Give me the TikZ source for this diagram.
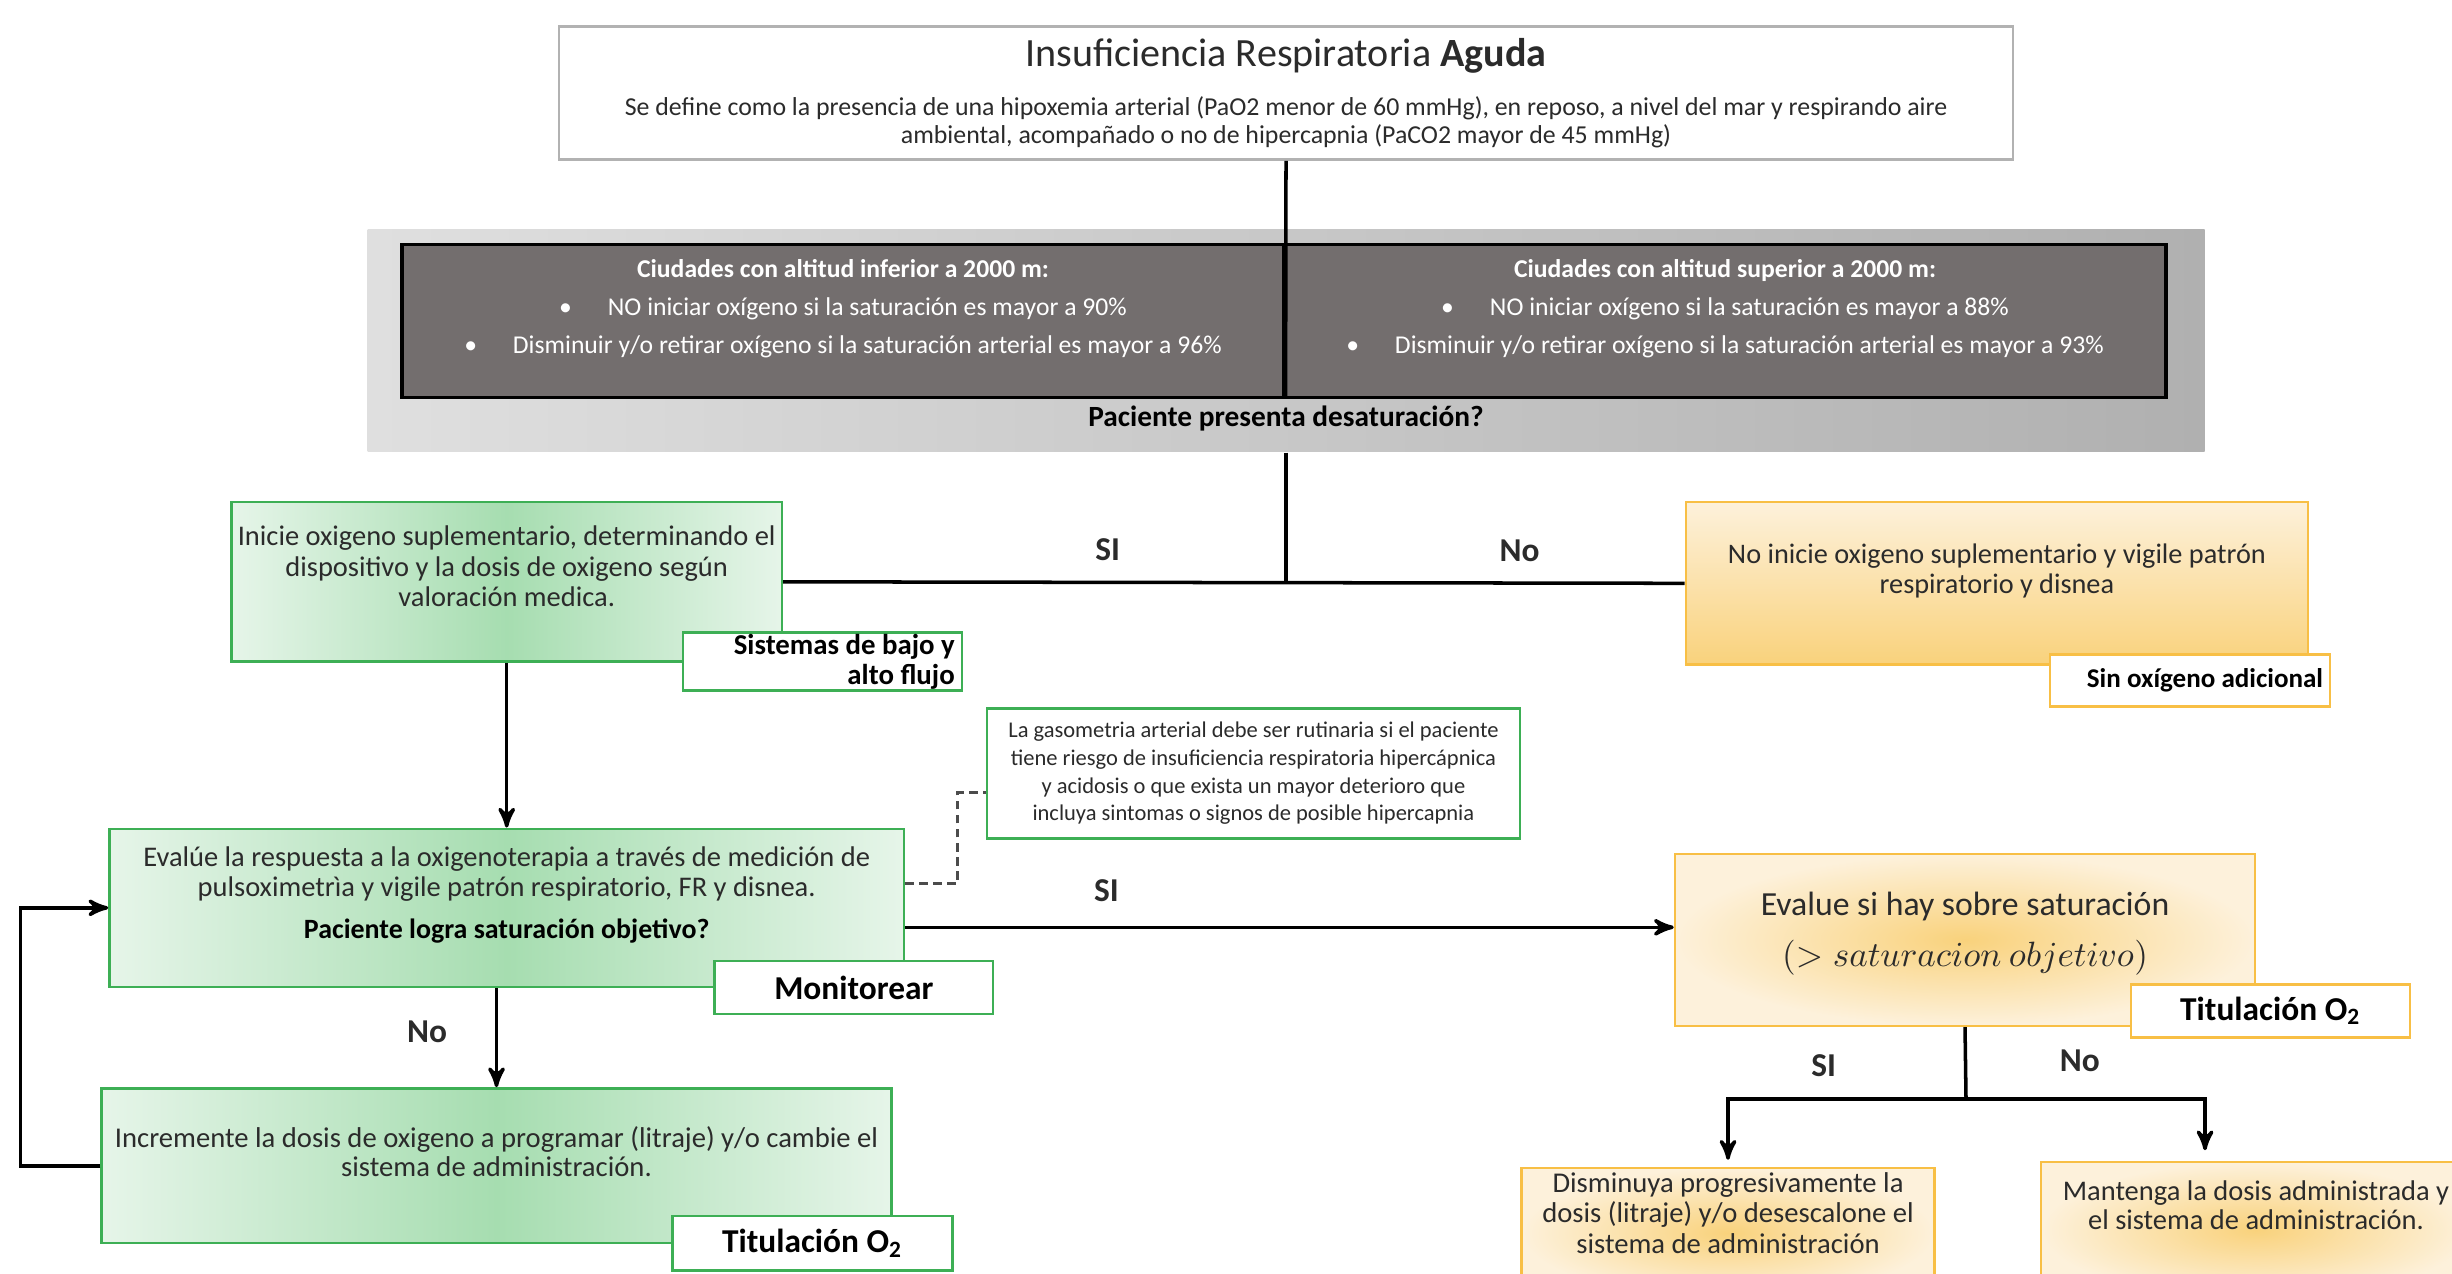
\documentclass[tikz,border=0pt]{standalone}
\usepackage{fontspec}
\setmainfont{Carlito}
\usepackage{tikz}
\usetikzlibrary{shapes, arrows, arrows.meta, calc, positioning}
\usepackage{xcolor}
\definecolor{boxgreen}{HTML}{3DAF55}
\definecolor{greenfill}{HTML}{A6DDB0}
\definecolor{greenlight}{HTML}{E6F5E9}
\definecolor{boxorange}{HTML}{F8BF45}
\definecolor{orangefill}{HTML}{F9D27C}
\definecolor{orangelight}{HTML}{FDF1DB}
\definecolor{darkcell}{HTML}{736E6E}
\definecolor{textgray}{HTML}{2B2B2B}

\begin{document}
\begin{tikzpicture}
        \tikzstyle{topbox}=[draw=gray!60, line width=0.8pt, fill=white, minimum width=14.54cm, minimum height=1.33cm, align=center, inner sep=0pt, text=textgray]
        \tikzstyle{graybox}=[left color=gray!25, right color=gray!62, minimum width=18.37cm, minimum height=2.22cm, inner sep=0pt]
        \tikzstyle{cell}=[draw=black, line width=0.9pt, fill=darkcell, text=white, minimum width=8.82cm, minimum height=1.53cm, align=center, inner sep=0pt, font=\fontsize{7.3}{10.8}\selectfont]
        \tikzstyle{greenbox}=[draw=boxgreen, line width=0.7pt, left color=greenlight, right color=greenlight, middle color=greenfill, text=textgray, align=center, inner sep=0pt, font=\fontsize{8.1}{8.7}\selectfont]
        \tikzstyle{orangebox}=[draw=boxorange, line width=0.7pt, inner color=orangefill, outer color=orangelight, text=textgray, align=center, inner sep=0pt, font=\fontsize{8.1}{8.6}\selectfont]
        \tikzstyle{tag}=[draw, line width=0.7pt, fill=white, inner sep=0pt, minimum width=2.79cm, minimum height=0.53cm, font=\bfseries\fontsize{9.5}{10}\selectfont]
        \tikzstyle{conn}=[line width=1pt]
        \tikzstyle{arrow}=[->, line width=1pt, >=stealth']
        \tikzstyle{answer}=[font=\bfseries\fontsize{9.5}{10}\selectfont, text=textgray]

        \useasboundingbox (0,0) rectangle (24.52,-12.73);

        % encabezado
        \node[topbox, font=\fontsize{7.35}{8}\selectfont] (IRA) at (12.86,-0.93) {{\fontsize{11.4}{12}\selectfont Insuficiencia Respiratoria \textbf{Aguda}}\\[6pt]
            Se define como la presencia de una hipoxemia arterial (PaO2 menor de 60 mmHg), en reposo, a nivel del mar y respirando aire\\
            ambiental, acompañado o no de hipercapnia (PaCO2 mayor de 45 mmHg)};

        \node[graybox] (altitud) at (12.86,-3.409) {};
        \node[cell] (inferior) at (8.43,-3.206) {\textbf{Ciudades con altitud inferior a 2000 m:}\\
            \textbullet\hspace{1.4em}NO iniciar oxígeno si la saturación es mayor a 90\%\\
            \textbullet\hspace{1.4em}Disminuir y/o retirar oxígeno si la saturación arterial es mayor a 96\%\\[-3pt] \mbox{}};
        \node[cell] (superior) at (17.25,-3.206) {\textbf{Ciudades con altitud superior a 2000 m:}\\
            \textbullet\hspace{1.4em}NO iniciar oxígeno si la saturación es mayor a 88\%\\
            \textbullet\hspace{1.4em}Disminuir y/o retirar oxígeno si la saturación arterial es mayor a 93\%\\[-3pt] \mbox{}};
        \node[font=\bfseries\fontsize{8.35}{9}\selectfont] (desat) at (12.86,-4.19) {Paciente presenta desaturación?};

        % primera decision
        \node[greenbox, minimum width=5.505cm, minimum height=1.595cm] (inicie) at (5.067,-5.818) {Inicie oxigeno suplementario, determinando el\\
            dispositivo y la dosis de oxigeno según\\
            valoración medica.\\ \mbox{}};
        \node[tag, draw=boxgreen, minimum height=0.58cm, text width=2.65cm, align=flush right, font=\bfseries\fontsize{8.2}{8.6}\selectfont, below left = -0.313cm and -1.798cm of inicie.south east] (flujo) {Sistemas de bajo y\\alto flujo};

        \node[orangebox, top color=orangelight, bottom color=orangefill, minimum width=6.222cm, minimum height=1.626cm, font=\fontsize{8.05}{8.4}\selectfont] (noinicie) at (19.969,-5.833) {No inicie oxigeno suplementario y vigile patrón\\
            respiratorio y disnea\\ \mbox{}};
        \node[tag, draw=boxorange, minimum width=2.8cm, minimum height=0.52cm, text width=2.66cm, align=flush right, font=\bfseries\fontsize{7.7}{8.6}\selectfont, below left = -0.126cm and -0.22cm of noinicie.south east] (sinoxi) {Sin oxígeno adicional};

        % monitoreo
        \node[greenbox, minimum width=7.944cm, minimum height=1.58cm, font=\fontsize{8.1}{8.5}\selectfont] (evalua) at (5.067,-9.078) {Evalúe la respuesta a la oxigenoterapia a través de medición de\\
            pulsoximetrìa y vigile patrón respiratorio, FR y disnea.\\[3.5pt]
            {\color{black}\fontsize{7.95}{8.5}\selectfont\textbf{Paciente logra saturación objetivo?}}\\ \mbox{}};
        \node[tag, draw=boxgreen, minimum width=2.783cm, below left = -0.282cm and -0.891cm of evalua.south east] (monitor) {Monitorear};

        \node[draw=boxgreen, line width=0.7pt, fill=white, minimum width=5.33cm, minimum height=1.3cm, inner sep=0pt, align=center, text=textgray, font=\fontsize{6.4}{7.9}\selectfont] (nota) at (12.534,-7.733) {La gasometria arterial debe ser rutinaria si el paciente\\
            tiene riesgo de insuficiencia respiratoria hipercápnica\\
            y acidosis o que exista un mayor deterioro que\\
            incluya sintomas o signos de posible hipercapnia};

        \node[orangebox, minimum width=5.80cm, minimum height=1.72cm, font=\fontsize{9.6}{14.6}\selectfont] (sobre) at (19.65,-9.398) {Evalue si hay sobre saturación\\
            $(> saturacion\ objetivo)$\\[-0.3cm] \mbox{}};
        \node[tag, draw=boxorange, below left = -0.438cm and -1.55cm of sobre.south east] (titsobre) {Titulación O\textsubscript{2}};

        \node[greenbox, minimum width=7.898cm, minimum height=1.548cm, font=\fontsize{8.15}{8.2}\selectfont] (incr) at (4.965,-11.658) {Incremente la dosis de oxigeno a programar (litraje) y/o cambie el\\
            sistema de administración.\\ \mbox{}};
        \node[tag, draw=boxgreen, minimum width=2.80cm, minimum height=0.545cm, below left = -0.297cm and -0.61cm of incr.south east] (titincr) {Titulación O\textsubscript{2}};

        % titulacion
        \node[orangebox, minimum width=4.128cm, minimum height=1.3cm, font=\fontsize{8.15}{8.6}\selectfont] (disminuya) at (17.28,-12.33) {Disminuya progresivamente la\\
            dosis (litraje) y/o desescalone el\\
            sistema de administración\\[0.1cm] \mbox{}};
        \node[orangebox, minimum width=4.3cm, minimum height=1.36cm, font=\fontsize{8.1}{8.4}\selectfont] (mantenga) at (22.56,-12.30) {Mantenga la dosis administrada y\\
            el sistema de administración.\\[0.2cm] \mbox{}};
        \coordinate (split) at (19.66,-10.99);

        \draw[conn] (IRA.south) -- (inferior.south east);
        \draw[conn] (altitud.south) -- (altitud.south |- inicie.east);
        \draw[conn] (inicie.east) to node[answer, above=0.08cm, pos=0.36] {SI} node[answer, above=0.08cm, pos=0.817] {No} (noinicie.west);
        \draw[arrow] (inicie) -- (evalua);
        \draw[conn, gray!60!black, line width=0.8pt, dash pattern=on 2.5pt off 1.5pt] ([yshift=0.243cm]evalua.east) -| ([xshift=-0.282cm, yshift=-0.195cm]nota.west) -- ([yshift=-0.195cm]nota.west);
        \draw[arrow] ([yshift=-0.195cm]evalua.east) to node[answer, above=0.12cm, pos=0.262] {SI} ([yshift=-0.195cm]evalua.east -| sobre.west);
        \draw[arrow] (evalua.south -| incr.north) to node[answer, left=0.36cm, pos=0.445] {No} (incr.north);
        \draw[arrow] (incr.west) -- ++(-0.8,0) |- (evalua.west);
        \draw[conn] (sobre.south) to node[answer, left=1.16cm, pos=0.53] {SI} node[answer, right=0.81cm, pos=0.47] {No} (split);
        \draw[arrow, shorten >=2pt] (split) -| (disminuya.north);
        \draw[arrow, shorten >=3pt] (split) -| ([xshift=-0.51cm]mantenga.north);
\end{tikzpicture}
\end{document}
